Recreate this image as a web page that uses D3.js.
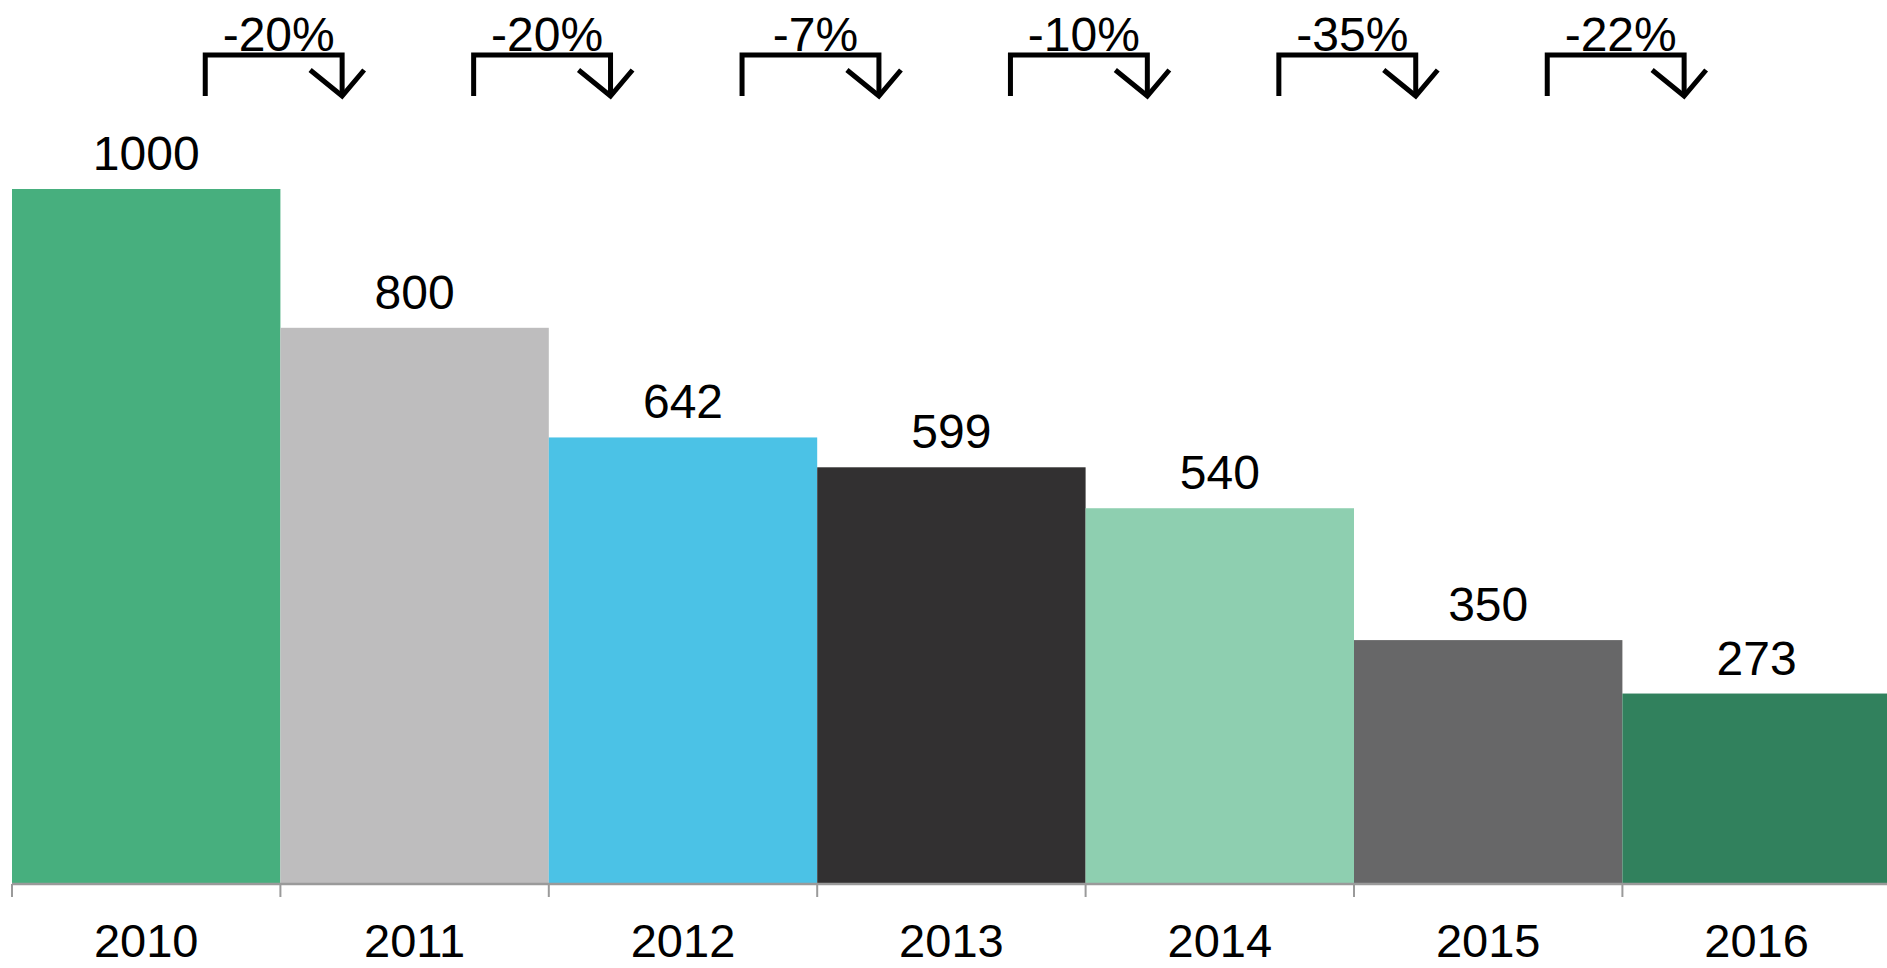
<!DOCTYPE html>
<html>
<head>
<meta charset="utf-8">
<script src="https://cdn.jsdelivr.net/npm/d3@7"></script>
<style>
html,body{margin:0;padding:0;background:#fff;overflow:hidden;}
svg{display:block;font-family:"Liberation Sans",Arial,sans-serif;}
</style>
</head>
<body>
<svg id="chart" width="1887" height="968"></svg>
<script>
const years = ["2010","2011","2012","2013","2014","2015","2016"];
const values = [1000, 800, 642, 599, 540, 350, 273];
const changes = ["-20%","-20%","-7%","-10%","-35%","-22%"];
const colors = ["#47af7e","#bebdbe","#4bc2e6","#323031","#8ecfb0","#676768","#31815d"];

const svg = d3.select("#chart");
const W = 1887, H = 968;
const left = 12, bw = 268.4;
const x = d3.scaleBand().domain(years).range([left, left + bw * years.length]).padding(0);
const y = d3.scaleLinear().domain([0, 1000]).range([883, 189]);

// bars
svg.append("g").selectAll("rect").data(years).join("rect")
  .attr("x", d => x(d))
  .attr("y", (d,i) => y(values[i]))
  .attr("width", x.bandwidth())
  .attr("height", (d,i) => y(0) - y(values[i]))
  .attr("fill", (d,i) => colors[i]);

// value labels
svg.append("g").selectAll("text").data(years).join("text")
  .attr("x", d => x(d) + x.bandwidth()/2)
  .attr("y", (d,i) => y(values[i]) - 19)
  .attr("text-anchor", "middle")
  .attr("font-size", 48)
  .attr("fill", "#000")
  .text((d,i) => values[i]);

// x axis
const axis = d3.axisBottom(x).tickSize(13).tickSizeOuter(0).tickFormat(d => d);
const gx = svg.append("g").attr("transform", `translate(0,${y(0)+1})`).call(axis);
gx.select(".domain").attr("stroke", "#9a9a9a").attr("stroke-width", 2.5);
gx.selectAll(".tick line").attr("stroke", "#9a9a9a").attr("stroke-width", 2)
  .attr("transform", `translate(${-x.bandwidth()/2},0)`);
gx.selectAll(".tick text").attr("font-size", 47).attr("fill", "#000")
  .attr("font-family", "'Liberation Sans',Arial,sans-serif")
  .attr("dy", null).attr("y", 73);
gx.select(".domain").attr("d", `M${left},0H${W}`);

// change annotations
const ann = svg.append("g");
changes.forEach((c, i) => {
  const x1 = x(years[i]) + bw * 0.72;
  const x2 = x(years[i+1]) + bw * 0.23;
  const top = 55, bot = 96;
  ann.append("path")
    .attr("d", `M${x1},${bot}V${top}H${x2}V${bot}`)
    .attr("fill", "none").attr("stroke", "#000").attr("stroke-width", 5)
    .attr("stroke-linejoin", "miter");
  ann.append("path")
    .attr("d", `M${x2-32},${bot-26}L${x2},${bot}L${x2+22},${bot-26}`)
    .attr("fill", "none").attr("stroke", "#000").attr("stroke-width", 5);
  ann.append("text")
    .attr("x", (x1 + x2)/2 + 5)
    .attr("y", 51)
    .attr("text-anchor", "middle")
    .attr("font-size", 48)
    .attr("fill", "#000")
    .text(c);
});
</script>
</body>
</html>
